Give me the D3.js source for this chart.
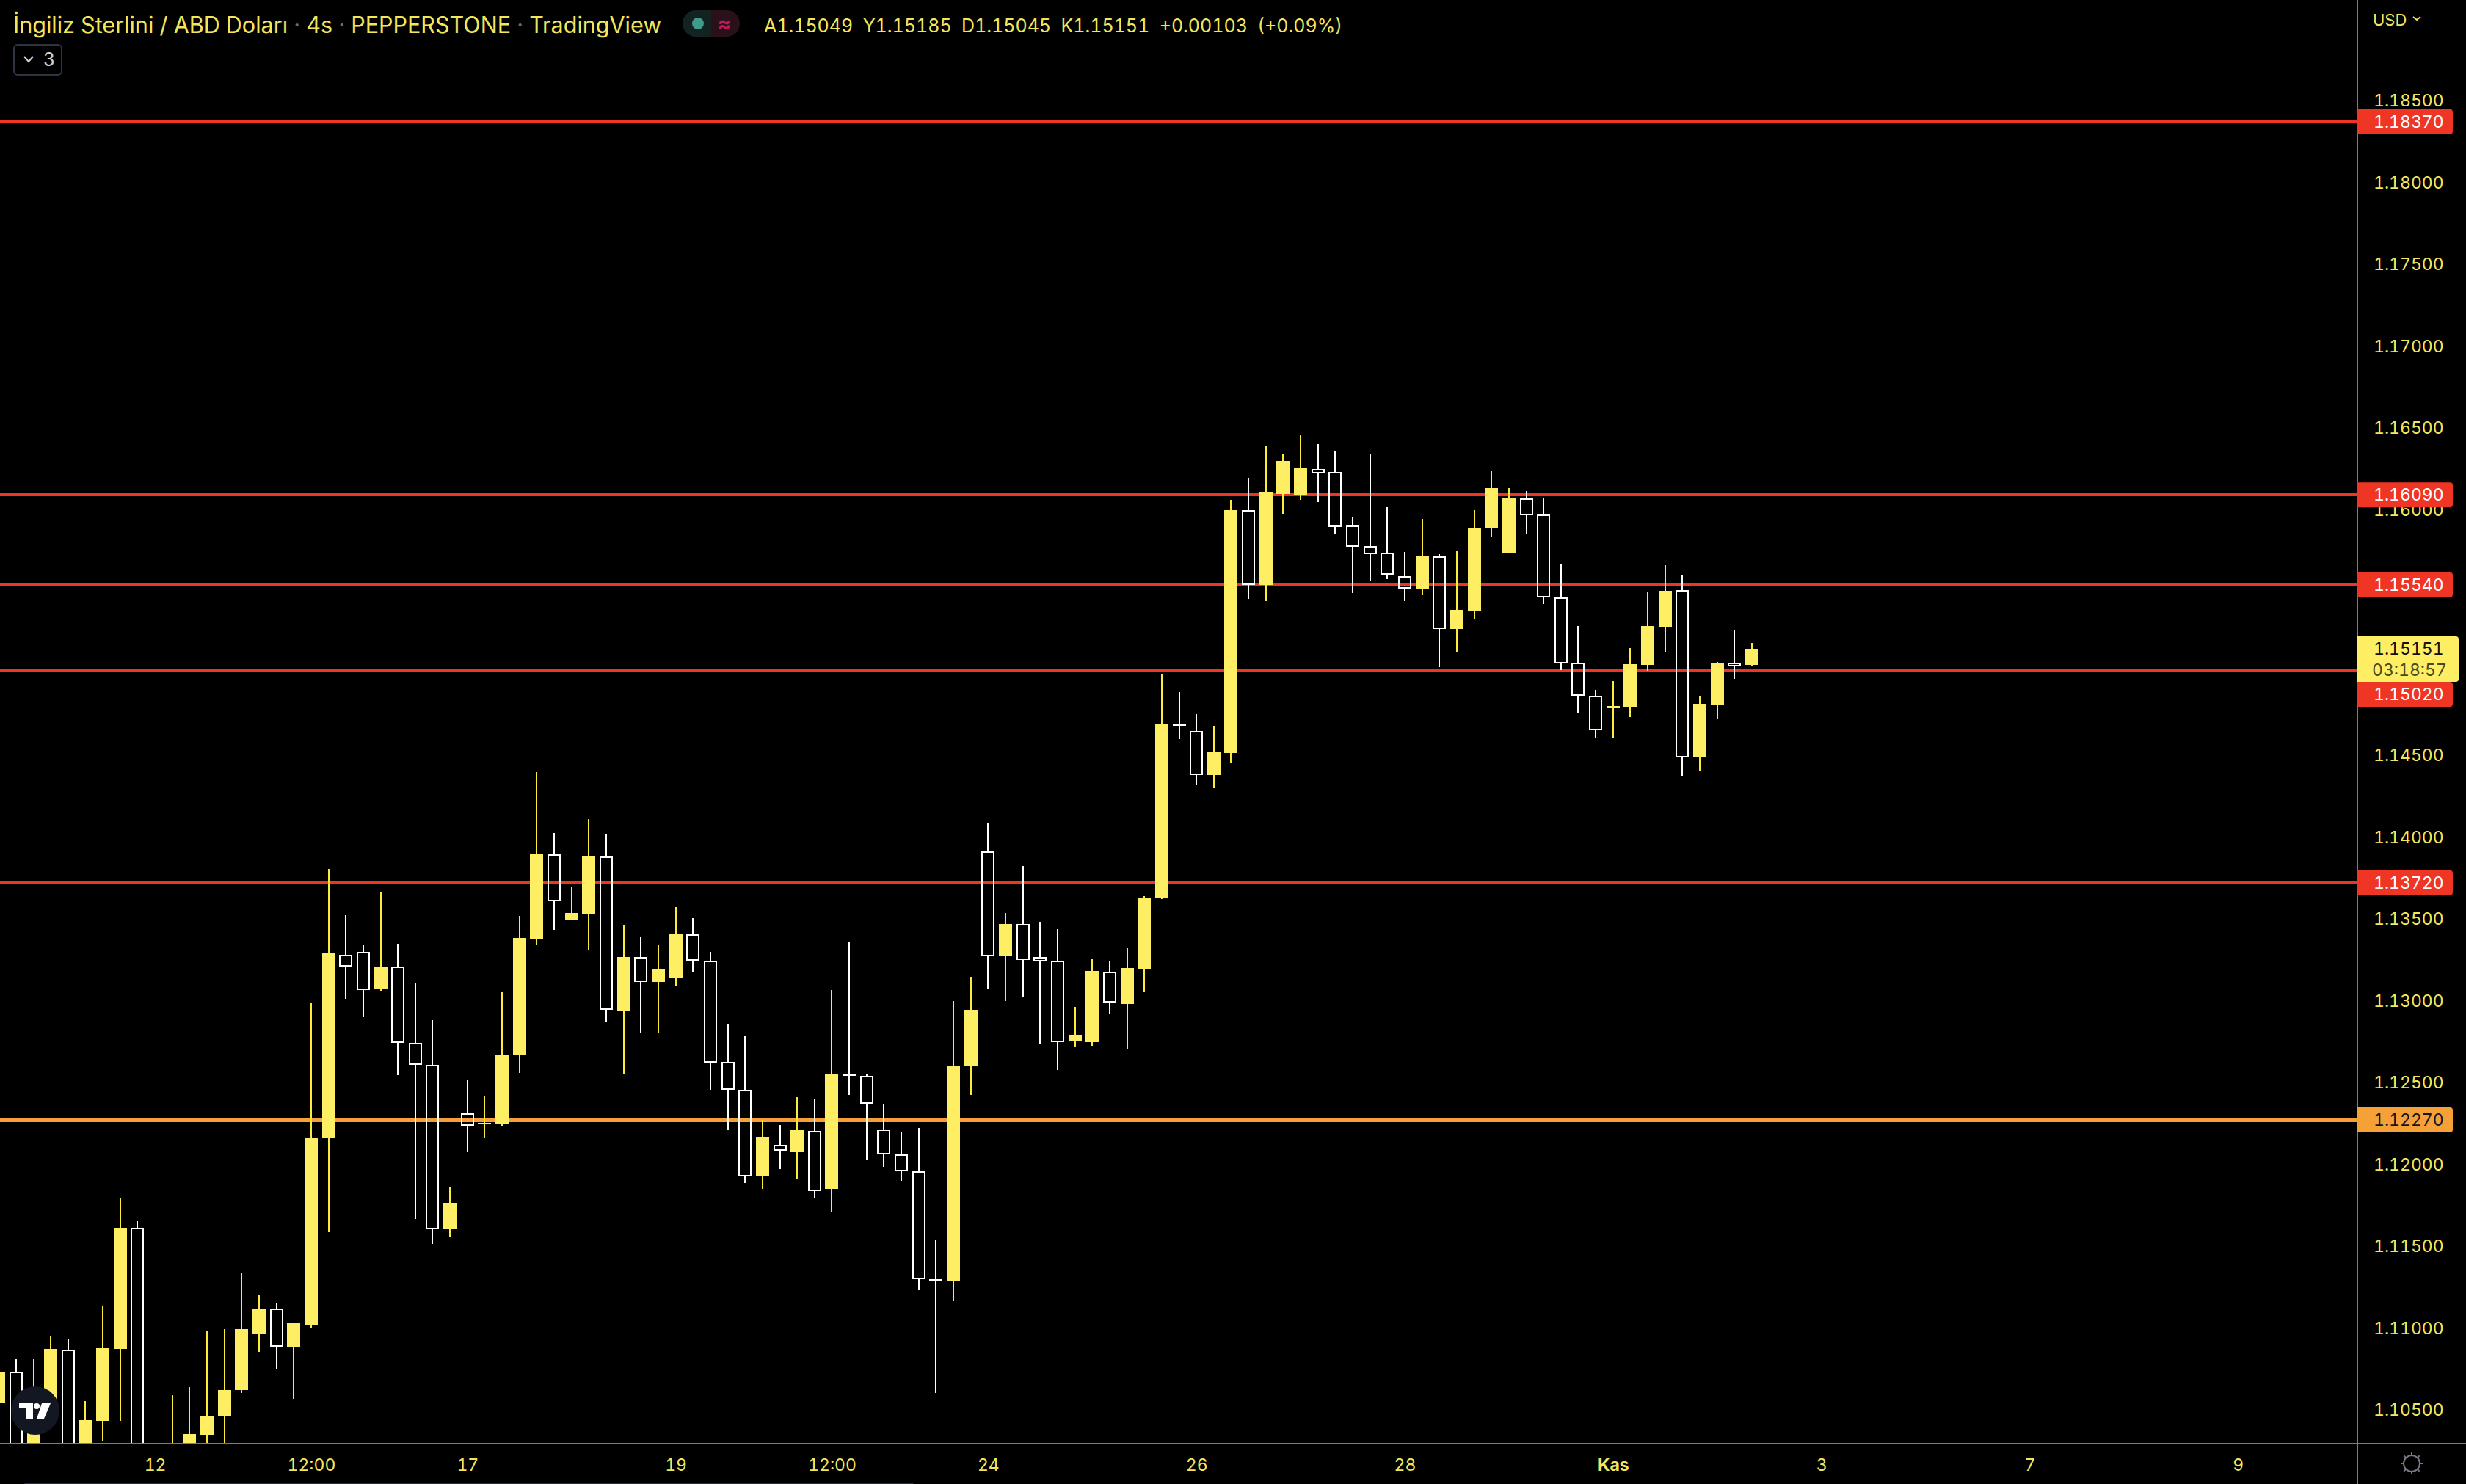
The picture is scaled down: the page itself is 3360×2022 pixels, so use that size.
<!DOCTYPE html>
<html>
<head>
<meta charset="utf-8">
<title>GBPUSD 4s</title>
<script src="https://cdn.jsdelivr.net/npm/d3@7"></script>
<style>
    html, body { margin: 0; padding: 0; background: #000; }
    svg { display: block; }
    text { font-family: Inter, Roboto, sans-serif; font-feature-settings: "tnum"; }
</style>
</head>
<body>
<div id="chart"></div>
<script>
/***********************************************************************
 * 1) DATA (read off the picture)
 ***********************************************************************/
const opens = [
    1.10539, 1.10731, 1.10189, 1.10481, 1.10868, 1.10212, 1.10433, 1.10871, 1.11612, 1.10212,
    1.10167, 1.10212, 1.10346, 1.10463, 1.10620, 1.10965, 1.11118, 1.10880, 1.11019, 1.12156,
    1.13279, 1.13297, 1.13068, 1.13205, 1.12743, 1.12606, 1.11602, 1.12312, 1.12243, 1.12247,
    1.12665, 1.13378, 1.13893, 1.13494, 1.13526, 1.13882, 1.12938, 1.13267, 1.13113, 1.13135,
    1.13405, 1.13245, 1.12624, 1.12454, 1.11925, 1.12119, 1.12077, 1.12201, 1.11848, 1.12546,
    1.12541, 1.12212, 1.12059, 1.11956, 1.11295, 1.11283, 1.12597, 1.13911, 1.13270, 1.13467,
    1.13265, 1.13241, 1.12750, 1.12745, 1.13178, 1.12978, 1.13194, 1.13624, 1.14689, 1.14648,
    1.14378, 1.14512, 1.15996, 1.15539, 1.16095, 1.16086, 1.16248, 1.16230, 1.15902, 1.15777,
    1.15736, 1.15593, 1.15517, 1.15714, 1.15270, 1.15382, 1.15884, 1.15736, 1.16068, 1.15970,
    1.15463, 1.15064, 1.14862, 1.14786, 1.14795, 1.15050, 1.15283, 1.15508, 1.14490, 1.14808,
    1.15064, 1.15049
];
const highs = [
    1.10772, 1.10808, 1.10808, 1.10952, 1.10934, 1.10553, 1.11135, 1.11795, 1.11656, 1.10257,
    1.10588, 1.10638, 1.10983, 1.10992, 1.11333, 1.11198, 1.11149, 1.11032, 1.12987, 1.13804,
    1.13521, 1.13342, 1.13660, 1.13346, 1.13109, 1.12880, 1.11862, 1.12517, 1.12418, 1.13050,
    1.13517, 1.14396, 1.14023, 1.13691, 1.14109, 1.14019, 1.13458, 1.13387, 1.13342, 1.13570,
    1.13503, 1.13297, 1.12857, 1.12781, 1.12270, 1.12239, 1.12409, 1.12400, 1.13064, 1.13360,
    1.12553, 1.12369, 1.12194, 1.12221, 1.11535, 1.12996, 1.13144, 1.14086, 1.13535, 1.13822,
    1.13481, 1.13436, 1.12961, 1.13257, 1.13239, 1.13319, 1.13638, 1.14992, 1.14884, 1.14750,
    1.14678, 1.16059, 1.16194, 1.16387, 1.16337, 1.16454, 1.16400, 1.16360, 1.15956, 1.16342,
    1.16014, 1.15741, 1.15943, 1.15727, 1.15745, 1.15996, 1.16234, 1.16131, 1.16113, 1.16068,
    1.15665, 1.15288, 1.14898, 1.14952, 1.15153, 1.15499, 1.15660, 1.15597, 1.14862, 1.15068,
    1.15265, 1.15185
];
const lows = [
    1.10503, 1.10144, 1.10144, 1.10436, 1.10055, 1.10144, 1.10312, 1.10433, 1.10055, 1.10077,
    1.10122, 1.10144, 1.10257, 1.10257, 1.10602, 1.10853, 1.10750, 1.10566, 1.10996, 1.11584,
    1.13010, 1.12898, 1.13059, 1.12544, 1.11665, 1.11512, 1.11553, 1.12073, 1.12158, 1.12234,
    1.12557, 1.13337, 1.13431, 1.13490, 1.13306, 1.12866, 1.12553, 1.12799, 1.12799, 1.13091,
    1.13171, 1.12454, 1.12212, 1.11884, 1.11848, 1.11970, 1.11911, 1.11795, 1.11709, 1.12422,
    1.12023, 1.11983, 1.11898, 1.11230, 1.10602, 1.11167, 1.12422, 1.13073, 1.12996, 1.13023,
    1.12732, 1.12575, 1.12718, 1.12723, 1.12920, 1.12705, 1.13050, 1.13620, 1.14597, 1.14319,
    1.14301, 1.14449, 1.15454, 1.15440, 1.15970, 1.16059, 1.16046, 1.15853, 1.15490, 1.15566,
    1.15575, 1.15440, 1.15476, 1.15037, 1.15126, 1.15333, 1.15830, 1.15736, 1.15853, 1.15422,
    1.15019, 1.14754, 1.14602, 1.14606, 1.14732, 1.15014, 1.15131, 1.14369, 1.14404, 1.14719,
    1.14965, 1.15045
];
const closes = [
    1.10732, 1.10189, 1.10593, 1.10871, 1.10144, 1.10436, 1.10875, 1.11611, 1.10144, 1.10144,
    1.10257, 1.10351, 1.10463, 1.10620, 1.10992, 1.11118, 1.10884, 1.11028, 1.12158, 1.13288,
    1.13205, 1.13064, 1.13207, 1.12743, 1.12605, 1.11604, 1.11763, 1.12236, 1.12250, 1.12669,
    1.13382, 1.13893, 1.13606, 1.13535, 1.13884, 1.12941, 1.13265, 1.13115, 1.13194, 1.13409,
    1.13245, 1.12622, 1.12454, 1.11925, 1.12167, 1.12083, 1.12207, 1.11837, 1.12548, 1.12539,
    1.12369, 1.12059, 1.11956, 1.11297, 1.11288, 1.12597, 1.12943, 1.13272, 1.13467, 1.13248,
    1.13239, 1.12747, 1.12790, 1.13180, 1.12986, 1.13198, 1.13629, 1.14691, 1.14683, 1.14379,
    1.14521, 1.15996, 1.15541, 1.16104, 1.16297, 1.16252, 1.16221, 1.15893, 1.15772, 1.15729,
    1.15604, 1.15517, 1.15718, 1.15268, 1.15387, 1.15889, 1.16131, 1.16068, 1.15967, 1.15461,
    1.15060, 1.14862, 1.14653, 1.14799, 1.15055, 1.15288, 1.15503, 1.14485, 1.14813, 1.15064,
    1.15041, 1.15151
];

// Horizontal levels drawn on the chart
const redLevels = [1.1837, 1.1609, 1.1554, 1.1502, 1.1372];
const orangeLevels = [1.1227];

// Axis ticks
const priceTicks = [1.185, 1.18, 1.175, 1.17, 1.165, 1.16, 1.155, 1.15, 1.145, 1.14, 1.135, 1.13, 1.125, 1.12, 1.115, 1.11, 1.105];
const timeTickIndex = [9, 18, 27, 39, 48, 57, 69, 81, 93, 105, 117, 129];
const timeTickLabels = ["12", "12:00", "17", "19", "12:00", "24", "26", "28", "Kas", "3", "7", "9"];

const legendParts = ["İngiliz Sterlini / ABD Doları", "4s", "PEPPERSTONE", "TradingView"];
const ohlcText = "A1.15049  Y1.15185  D1.15045  K1.15151  +0.00103  (+0.09%)";
const lastPrice = 1.15151;
const countdown = "03:18:57";

/***********************************************************************
 * 2) SETUP
 ***********************************************************************/
const width = 3360, height = 2022;
const plotRight = 3212, plotBottom = 1967;

const yellow = "#fdee63", wickYellow = "#fcec35", tickYellow = "#f3e65c";
const red = "#ef3524", orange = "#f5a138", axisColor = "#8f8232";

const candles = opens.map((o, i) => ({ i, o, h: highs[i], l: lows[i], c: closes[i], up: closes[i] >= o }));

const svg = d3.select("#chart").append("svg")
    .attr("width", width)
    .attr("height", height)
    .style("background", "#000");

svg.append("clipPath").attr("id", "plot")
    .append("rect").attr("width", plotRight).attr("height", plotBottom);

const xScale = d3.scaleLinear().domain([0, 101]).range([-1.8, 2387]);
const yScale = d3.scaleLinear().domain([1.1837, 1.1227]).range([165.7, 1526]);
const px = v => Math.round(v);

const plot = svg.append("g").attr("clip-path", "url(#plot)");

/***********************************************************************
 * 3) LEVEL LINES (behind the candles)
 ***********************************************************************/
plot.selectAll(".red-line").data(redLevels).enter().append("rect")
    .attr("class", "red-line")
    .attr("x", 0).attr("width", plotRight)
    .attr("y", d => px(yScale(d)) - 2).attr("height", 4)
    .attr("fill", red);

plot.selectAll(".orange-line").data(orangeLevels).enter().append("rect")
    .attr("class", "orange-line")
    .attr("x", 0).attr("width", plotRight)
    .attr("y", d => px(yScale(d)) - 3).attr("height", 6)
    .attr("fill", orange);

/***********************************************************************
 * 4) CANDLES
 ***********************************************************************/
const bodyW = 18;
const bodyTop = d => px(yScale(Math.max(d.o, d.c)));
const bodyBot = d => px(yScale(Math.min(d.o, d.c)));

const candle = plot.selectAll(".candle").data(candles).enter().append("g").attr("class", "candle");

// wicks: one piece above the body, one below
candle.append("rect")
    .attr("x", d => px(xScale(d.i)) - 1).attr("width", 2)
    .attr("y", d => px(yScale(d.h)))
    .attr("height", d => Math.max(0, bodyTop(d) - px(yScale(d.h))))
    .attr("fill", d => d.up ? wickYellow : "#fff");

candle.append("rect")
    .attr("x", d => px(xScale(d.i)) - 1).attr("width", 2)
    .attr("y", d => bodyBot(d))
    .attr("height", d => Math.max(0, px(yScale(d.l)) - bodyBot(d)))
    .attr("fill", d => d.up ? wickYellow : "#fff");

// filled bodies for rising candles and very thin falling ones
candle.filter(d => d.up || bodyBot(d) - bodyTop(d) < 4).append("rect")
    .attr("x", d => px(xScale(d.i)) - bodyW / 2).attr("width", bodyW)
    .attr("y", d => bodyTop(d))
    .attr("height", d => Math.max(2, bodyBot(d) - bodyTop(d)))
    .attr("fill", d => d.up ? yellow : "#fff");

// hollow bodies for falling candles, lines show through
candle.filter(d => !d.up && bodyBot(d) - bodyTop(d) >= 4).append("rect")
    .attr("x", d => px(xScale(d.i)) - bodyW / 2 + 1).attr("width", bodyW - 2)
    .attr("y", d => bodyTop(d) + 1)
    .attr("height", d => bodyBot(d) - bodyTop(d) - 2)
    .attr("fill", "none")
    .attr("stroke", "#fff")
    .attr("stroke-width", 2);

/***********************************************************************
 * 5) AXES
 ***********************************************************************/
const yAxis = svg.append("g")
    .attr("transform", `translate(${plotRight + 22},0)`)
    .call(d3.axisRight(yScale).tickValues(priceTicks).tickSize(0).tickPadding(0).tickFormat(d3.format(".5f")));
yAxis.select(".domain").remove();
yAxis.selectAll("text")
    .attr("dy", "0.36em")
    .attr("fill", tickYellow)
    .style("font-size", "23px")
    .style("font-family", "Inter, Roboto, sans-serif");

const xAxis = svg.append("g")
    .attr("transform", `translate(0,${1996})`)
    .call(d3.axisBottom(xScale).tickValues(timeTickIndex).tickSize(0).tickPadding(0)
        .tickFormat((d, i) => timeTickLabels[i]));
xAxis.select(".domain").remove();
xAxis.selectAll("text")
    .attr("dy", "0.35em")
    .attr("y", 0)
    .attr("fill", tickYellow)
    .style("font-size", "23px")
    .style("font-family", "Inter, Roboto, sans-serif")
    .style("font-weight", d => d === 93 ? 700 : 400);

svg.append("rect").attr("x", plotRight - 1).attr("y", 0).attr("width", 2).attr("height", height).attr("fill", axisColor);
svg.append("rect").attr("x", 0).attr("y", plotBottom - 1).attr("width", width).attr("height", 2).attr("fill", axisColor);

// gear icon in the corner
const gear = svg.append("g").attr("transform", "translate(3286,1994)")
    .attr("stroke", "#787b86").attr("stroke-width", 2).attr("fill", "none");
gear.append("circle").attr("r", 11);
gear.selectAll("line").data(d3.range(8)).enter().append("line")
    .attr("x1", d => 11 * Math.cos(d * Math.PI / 4)).attr("y1", d => 11 * Math.sin(d * Math.PI / 4))
    .attr("x2", d => 15 * Math.cos(d * Math.PI / 4)).attr("y2", d => 15 * Math.sin(d * Math.PI / 4));

// scrollbar sliver on the bottom edge
svg.append("rect").attr("x", 33).attr("y", 2020).attr("width", 1212).attr("height", 6).attr("rx", 3).attr("fill", "#2a2e39");

/***********************************************************************
 * 6) PRICE LABELS
 ***********************************************************************/
const lastY = yScale(lastPrice);
const lastBox = { top: px(lastY) - 17, bottom: px(lastY) + 45 };

function priceLabel(value, fill, textFill) {
    let cy = yScale(value);
    // pushed below the last price box if they would overlap
    if (cy + 17 > lastBox.top && cy - 17 < lastBox.bottom) cy = lastBox.bottom + 17;
    const g = svg.append("g");
    g.append("path")
        .attr("d", `M${plotRight},${cy - 17}H${plotRight + 126}a4,4 0 0 1 4,4V${cy + 13}a4,4 0 0 1 -4,4H${plotRight}Z`)
        .attr("fill", fill);
    g.append("text")
        .attr("x", plotRight + 22).attr("y", cy).attr("dy", "0.35em")
        .attr("fill", textFill)
        .style("font-size", "23px")
        .text(d3.format(".5f")(value));
}
redLevels.forEach(v => priceLabel(v, red, "#fff"));
orangeLevels.forEach(v => priceLabel(v, orange, "#131722"));

svg.append("path")
    .attr("d", `M${plotRight},${lastBox.top}H${plotRight + 134}a4,4 0 0 1 4,4V${lastBox.bottom - 4}a4,4 0 0 1 -4,4H${plotRight}Z`)
    .attr("fill", yellow);
svg.append("text")
    .attr("x", plotRight + 22).attr("y", px(lastY)).attr("dy", "0.35em")
    .attr("fill", "#111").style("font-size", "23px")
    .text(d3.format(".5f")(lastPrice));
svg.append("text")
    .attr("x", plotRight + 20).attr("y", px(lastY) + 29).attr("dy", "0.35em")
    .attr("fill", "#4c4720").style("font-size", "23px")
    .text(countdown);

/***********************************************************************
 * 7) HEADER
 ***********************************************************************/
const legend = svg.append("text")
    .attr("x", 18).attr("y", 34).attr("dy", "0.35em")
    .attr("fill", tickYellow)
    .style("font-size", "30.5px");
legendParts.forEach((t, i) => {
    if (i > 0) legend.append("tspan").attr("fill", "#6a6d78").text(" · ");
    legend.append("tspan").text(t);
});

svg.append("text")
    .attr("x", 1041).attr("y", 35).attr("dy", "0.35em")
    .attr("fill", tickYellow)
    .attr("xml:space", "preserve")
    .style("white-space", "pre")
    .style("font-size", "25px")
    .text(ohlcText);

// market status pill
svg.append("path").attr("d", "M969,14H948a18,18 0 0 0 0,36H969Z").attr("fill", "#122322");
svg.append("path").attr("d", "M969,14H990a18,18 0 0 1 0,36H969Z").attr("fill", "#2a1119");
svg.append("circle").attr("cx", 951).attr("cy", 32).attr("r", 8).attr("fill", "#3f9c8a");
svg.append("text").attr("x", 987).attr("y", 32).attr("dy", "0.35em").attr("text-anchor", "middle")
    .attr("fill", "#c2185b").style("font-size", "28px").style("font-weight", 700).text("≈");

// collapsed indicators button
svg.append("rect").attr("x", 19).attr("y", 61).attr("width", 65).attr("height", 41).attr("rx", 5)
    .attr("fill", "none").attr("stroke", "#2e3340").attr("stroke-width", 2);
svg.append("path").attr("d", "M33,77l6,7l6,-7").attr("fill", "none").attr("stroke", "#d1d4dc").attr("stroke-width", 2);
svg.append("text").attr("x", 59).attr("y", 81).attr("dy", "0.35em")
    .attr("fill", "#d1d4dc").style("font-size", "25px").text("3");

// USD menu
svg.append("text").attr("x", 3233).attr("y", 27).attr("dy", "0.35em")
    .attr("fill", tickYellow).style("font-size", "22px").text("USD");
svg.append("path").attr("d", "M3288,23l5,4l5,-4").attr("fill", "none").attr("stroke", tickYellow).attr("stroke-width", 2);

// TradingView badge
const badge = svg.append("g").attr("transform", "translate(48,1922)");
badge.append("circle").attr("r", 33).attr("fill", "#131722");
badge.append("path").attr("d", "M-22,-10H-3V11H-13V-3H-22Z").attr("fill", "#fff");
badge.append("circle").attr("cx", 2).attr("cy", -6).attr("r", 4).attr("fill", "#fff");
badge.append("path").attr("d", "M9,-10H21L12,11H2Z").attr("fill", "#fff");
</script>
</body>
</html>
